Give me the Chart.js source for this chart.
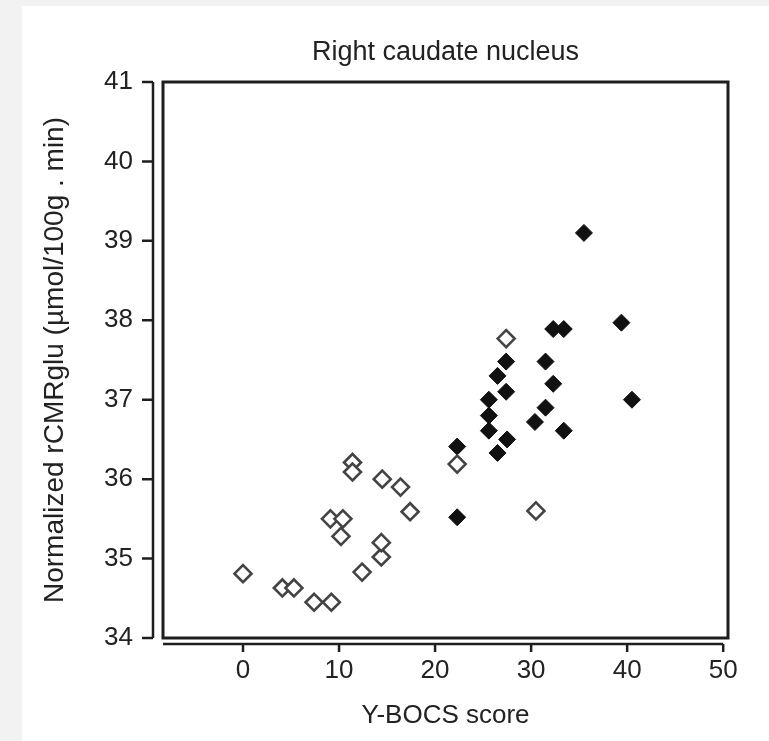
<!DOCTYPE html>
<html>
<head>
<meta charset="utf-8">
<script src="https://cdn.jsdelivr.net/npm/chart.js@4/dist/chart.umd.min.js"></script>
<style>
  html, body { margin: 0; padding: 0; background: #f2f2f2; }
  #wrap { position: absolute; left: 22px; top: 6px; width: 747px; height: 735px; background: #fff; }
</style>
</head>
<body>
<div id="wrap"><canvas id="grafico"></canvas></div>
<script>
// pacientes respondedores / nao respondedores (losangos vazios e cheios)
const xVazio = [0, 4.1, 5.3, 7.4, 9.2, 12.4, 14.4, 14.4, 9.1, 10.4, 10.2, 11.4, 11.4, 14.5, 16.4, 17.4, 22.3, 27.4, 30.5];
const yVazio = [34.81, 34.63, 34.63, 34.45, 34.45, 34.83, 35.02, 35.2, 35.5, 35.5, 35.28, 36.21, 36.09, 36.0, 35.9, 35.59, 36.19, 37.77, 35.6];
const xCheio = [22.3, 22.3, 35.5, 39.4, 32.3, 33.4, 27.4, 26.5, 27.4, 31.5, 32.3, 31.5, 30.4, 33.4, 40.5, 25.6, 25.6, 25.6, 27.5, 26.5];
const yCheio = [36.41, 35.52, 39.1, 37.97, 37.89, 37.89, 37.48, 37.3, 37.1, 37.48, 37.2, 36.9, 36.72, 36.61, 37.0, 37.0, 36.8, 36.61, 36.5, 36.33];
const xTicks = [0, 10, 20, 30, 40, 50];
const yTicks = [34, 35, 36, 37, 38, 39, 40, 41];

const fonte = "'Liberation Sans', Arial, Helvetica, sans-serif";

// caixa em volta da area do grafico + eixos deslocados
const moldura = {
    id: 'moldura',
    afterDraw(chart) {
        const ctx = chart.ctx;
        const a = chart.chartArea;
        const sx = chart.scales.x, sy = chart.scales.y;
        ctx.save();
        ctx.strokeStyle = '#1e1e1e';
        ctx.lineWidth = 3;
        ctx.strokeRect(a.left, a.top, a.right - a.left, a.bottom - a.top);

        // eixo y
        ctx.lineWidth = 2.5;
        let xe = a.left - 10;
        ctx.beginPath();
        ctx.moveTo(xe, sy.getPixelForValue(41));
        ctx.lineTo(xe, sy.getPixelForValue(34));
        yTicks.forEach(v => {
            let p = sy.getPixelForValue(v);
            ctx.moveTo(xe, p);
            ctx.lineTo(xe - 11, p);
        });
        ctx.stroke();

        // eixo x
        let ye = a.bottom + 6;
        ctx.beginPath();
        ctx.moveTo(a.left, ye);
        ctx.lineTo(sx.getPixelForValue(50), ye);
        xTicks.forEach(v => {
            let p = sx.getPixelForValue(v);
            ctx.moveTo(p, ye);
            ctx.lineTo(p, ye + 8);
        });
        ctx.stroke();
        ctx.restore();
    }
};

let ctx = document.getElementById("grafico").getContext("2d");
window.myChart = new Chart(ctx, {
    type: 'scatter',
    data: {
        datasets: [{
            label: 'vazio',
            data: xVazio.map((x, i) => ({ x: x, y: yVazio[i] })),
            pointStyle: 'rectRot',
            pointRadius: 8.5,
            backgroundColor: '#ffffff',
            borderColor: '#444444',
            borderWidth: 2.6
        }, {
            label: 'cheio',
            data: xCheio.map((x, i) => ({ x: x, y: yCheio[i] })),
            pointStyle: 'rectRot',
            pointRadius: 8.5,
            backgroundColor: '#111111',
            borderColor: '#111111',
            borderWidth: 1
        }]
    },
    options: {
        responsive: true,
        maintainAspectRatio: false,
        animation: false,
        layout: { padding: { left: 0, right: 41, top: 0, bottom: 0 } },
        scales: {
            x: {
                type: 'linear',
                min: -8.33,
                max: 50.5,
                afterBuildTicks: s => { s.ticks = xTicks.map(v => ({ value: v })); },
                afterFit: s => { s.height = 103; },
                grid: { display: false },
                border: { display: false },
                ticks: { padding: 9, color: '#222', font: { family: fonte, size: 26 } },
                title: {
                    display: true,
                    text: 'Y-BOCS score',
                    color: '#222',
                    font: { family: fonte, size: 26 },
                    padding: { top: 0, bottom: 10 }
                }
            },
            y: {
                type: 'linear',
                min: 34,
                max: 41,
                afterBuildTicks: s => { s.ticks = yTicks.map(v => ({ value: v })); },
                afterFit: s => { s.width = 141; },
                grid: { display: false },
                border: { display: false },
                ticks: { padding: 22, color: '#222', font: { family: fonte, size: 26 } },
                title: {
                    display: true,
                    text: 'Normalized rCMRglu (µmol/100g . min)',
                    color: '#222',
                    font: { family: fonte, size: 28 },
                    padding: { top: 16, bottom: 0 }
                }
            }
        },
        plugins: {
            legend: { display: false },
            tooltip: { enabled: false },
            title: {
                display: true,
                fullSize: false,
                text: 'Right caudate nucleus',
                color: '#222',
                font: { family: fonte, size: 27, weight: 'normal' },
                padding: { top: 30, bottom: 13.6 }
            }
        }
    },
    plugins: [moldura]
});
</script>
</body>
</html>
